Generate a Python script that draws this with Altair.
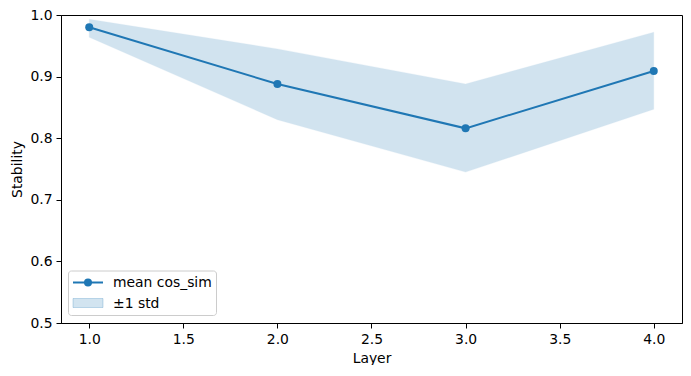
import altair as alt
import pandas as pd

layers = [1.0, 2.0, 3.0, 4.0]
mean_cos = [0.980, 0.888, 0.816, 0.909]
upper = [0.993, 0.945, 0.888, 0.972]
lower = [0.964, 0.830, 0.745, 0.847]

df = pd.DataFrame({"layer": layers, "mean": mean_cos, "upper": upper, "lower": lower})

BLUE = "#1f77b4"
FONT = "DejaVu Sans"
FS = 13.9

x = alt.X("layer:Q", scale=alt.Scale(domain=[0.85, 4.15], nice=False, zero=False),
          axis=alt.Axis(title="Layer", values=[1.0, 1.5, 2.0, 2.5, 3.0, 3.5, 4.0], format=".1f",
                        grid=False, tickSize=5, tickColor="black", domainColor="black",
                        labelColor="black", titleColor="black", labelFontSize=FS, titleFontSize=FS,
                        labelFont=FONT, titleFont=FONT, titleFontWeight="normal",
                        labelPadding=4, titlePadding=6, labelFlush=False))
y_axis = alt.Axis(title="Stability", values=[0.5, 0.6, 0.7, 0.8, 0.9, 1.0], format=".1f",
                  grid=False, tickSize=5, tickColor="black", domainColor="black",
                  labelColor="black", titleColor="black", labelFontSize=FS, titleFontSize=FS,
                  labelFont=FONT, titleFont=FONT, titleFontWeight="normal",
                  labelPadding=4, titlePadding=5, labelFlush=False)
yscale = alt.Scale(domain=[0.5, 1.0], nice=False, zero=False)

band = alt.Chart(df).mark_area(color=BLUE, opacity=0.2, stroke=BLUE, strokeWidth=1, strokeOpacity=0.25).encode(
    x=x, y=alt.Y("lower:Q", scale=yscale, axis=y_axis), y2="upper:Q")
line = alt.Chart(df).mark_line(color=BLUE, strokeWidth=2).encode(
    x="layer:Q", y=alt.Y("mean:Q", scale=yscale))
pts = alt.Chart(df).mark_circle(color=BLUE, size=64, opacity=1).encode(
    x="layer:Q", y=alt.Y("mean:Q", scale=yscale))

# legend (decoration)
leg_df = pd.DataFrame({"k": [0]})
base = alt.Chart(leg_df)
box = base.mark_rect(fill="white", fillOpacity=0.8, stroke="#cccccc", strokeWidth=1, cornerRadius=3).encode(
    x=alt.value(7.5), x2=alt.value(155.5), y=alt.value(256), y2=alt.value(300.5))
lline = base.mark_rule(color=BLUE, strokeWidth=2).encode(
    x=alt.value(12), x2=alt.value(42), y=alt.value(267.5))
lpt = base.mark_circle(color=BLUE, size=64, opacity=1).encode(x=alt.value(27), y=alt.value(267.5))
lpatch = base.mark_rect(fill=BLUE, fillOpacity=0.2, stroke=BLUE, strokeOpacity=0.25, strokeWidth=1).encode(
    x=alt.value(12), x2=alt.value(42), y=alt.value(283.5), y2=alt.value(292.5))
t1 = base.mark_text(text="mean cos_sim", align="left", baseline="middle", font=FONT, fontSize=FS, color="black").encode(
    x=alt.value(52), y=alt.value(267.5))
t2 = base.mark_text(text="±1 std", align="left", baseline="middle", font=FONT, fontSize=FS, color="black").encode(
    x=alt.value(52), y=alt.value(288.5))

chart = alt.layer(band, line, pts, box, lline, lpt, lpatch, t1, t2).properties(
    width=621, height=308,
    autosize=alt.AutoSizeParams(type="none"),
    padding={"left": 53, "top": 7, "right": 1, "bottom": 42},
    background="white",
).configure_view(stroke="black", strokeWidth=1)

chart.save("out.html", embed_options={"renderer": "svg", "actions": False})
